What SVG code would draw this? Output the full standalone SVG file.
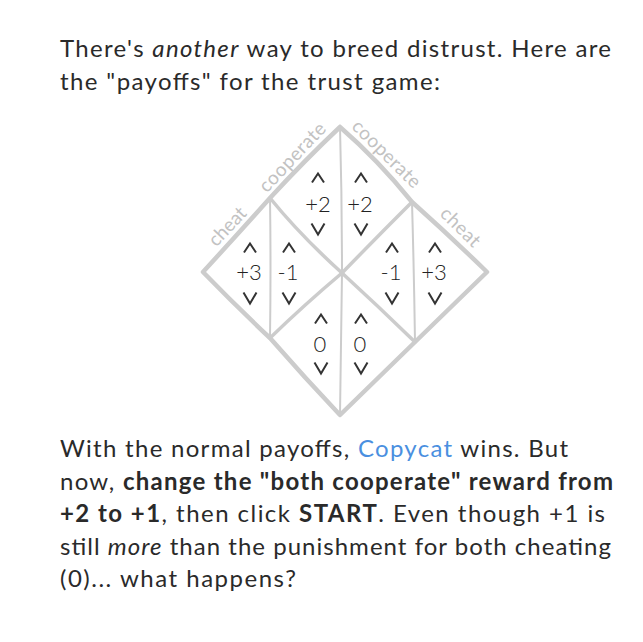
<svg xmlns="http://www.w3.org/2000/svg" width="643" height="642" viewBox="0 0 643 642">
<style>
.body{font-family:Lato,"Liberation Sans",sans-serif;font-size:24px;fill:#2a2a2a}
.b{font-weight:bold}
.i{font-style:italic}
.blue{fill:#4a8fe0}
.num{font-family:Lato,"Liberation Sans",sans-serif;font-size:22px;font-weight:300;fill:#222;text-anchor:middle}
.lbl{font-family:Lato,"Liberation Sans",sans-serif;font-size:19px;fill:#c2c2c2;text-anchor:middle}
.outer{fill:none;stroke:#cccccc;stroke-width:4.5;stroke-linejoin:round;stroke-linecap:round}
.diag{fill:none;stroke:#cccccc;stroke-width:3.5;stroke-linecap:round}
.vert{fill:none;stroke:#cccccc;stroke-width:2;stroke-linecap:round}
</style>
<defs>
<path id="up" d="M-6,4.5 L0,-4.5 L6,4.5" fill="none" stroke="#333" stroke-width="2"/>
<path id="dn" d="M-6.5,-5.5 L0,5.5 L6.5,-5.5" fill="none" stroke="#333" stroke-width="2"/>
</defs>
<rect width="643" height="642" fill="#fff"/>

<g id="intro">
<text class="body" x="60" y="57" textLength="551" lengthAdjust="spacing">There's <tspan class="i">another</tspan> way to breed distrust. Here are</text>
<text class="body" x="60" y="90" textLength="380" lengthAdjust="spacing">the "payoffs" for the trust game:</text>
</g>

<g id="connectors">
<path class="outer" d="M340,127 Q378,160 412,202 Q450,236 487,272 Q452,306 415,342 Q378,378 340,415 Q305,378 270,338 Q236,306 203,272 Q236,236 270,198 Q305,160 340,127"/>
<path class="diag" d="M270,198 Q300,235 342,273 Q378,306 415,342"/>
<path class="diag" d="M412,202 Q376,238 342,273 Q304,305 270,338"/>
<path class="vert" d="M340,127 Q342,200 342,273 Q341,345 340,415"/>
<path class="vert" d="M270,198 Q271,268 270,338"/>
<path class="vert" d="M412,202 Q414,272 415,342"/>
</g>

<g id="labels">
<text class="lbl" transform="translate(232,230.9) rotate(-46.6)" textLength="46" lengthAdjust="spacing">cheat</text>
<text class="lbl" transform="translate(297,161.6) rotate(-46.6)" textLength="88" lengthAdjust="spacing">cooperate</text>
<text class="lbl" transform="translate(382,158.5) rotate(44.6)" textLength="88" lengthAdjust="spacing">cooperate</text>
<text class="lbl" transform="translate(456,231.5) rotate(44.6)" textLength="48" lengthAdjust="spacing">cheat</text>
</g>

<g id="cell-cc-left"><use href="#up" x="318" y="178"/><text class="num" x="318" y="212">+2</text><use href="#dn" x="318" y="229"/></g>
<g id="cell-cc-right"><use href="#up" x="361" y="178"/><text class="num" x="360" y="212">+2</text><use href="#dn" x="361" y="229"/></g>
<g id="cell-dc-left"><use href="#up" x="250" y="248"/><text class="num" x="249" y="280">+3</text><use href="#dn" x="250" y="298"/></g>
<g id="cell-dc-right"><use href="#up" x="289" y="248"/><text class="num" x="288" y="280">-1</text><use href="#dn" x="289" y="298"/></g>
<g id="cell-cd-left"><use href="#up" x="392" y="248"/><text class="num" x="391" y="280">-1</text><use href="#dn" x="392" y="298"/></g>
<g id="cell-cd-right"><use href="#up" x="435" y="248"/><text class="num" x="434" y="280">+3</text><use href="#dn" x="435" y="298"/></g>
<g id="cell-dd-left"><use href="#up" x="321" y="319"/><text class="num" x="320" y="352">0</text><use href="#dn" x="321" y="368"/></g>
<g id="cell-dd-right"><use href="#up" x="361" y="319"/><text class="num" x="360" y="352">0</text><use href="#dn" x="361" y="368"/></g>

<g id="outro">
<text class="body" x="60" y="457" textLength="508" lengthAdjust="spacing">With the normal payoffs, <tspan class="blue">Copycat</tspan> wins. But</text>
<text class="body" x="60" y="490" textLength="553" lengthAdjust="spacing">now, <tspan class="b">change the "both cooperate" reward from</tspan></text>
<text class="body" x="60" y="522" textLength="545" lengthAdjust="spacing"><tspan class="b">+2 to +1</tspan>, then click <tspan class="b">START</tspan>. Even though +1 is</text>
<text class="body" x="60" y="555" textLength="551" lengthAdjust="spacing">still <tspan class="i">more</tspan> than the punishment for both cheating</text>
<text class="body" x="60" y="587" textLength="236" lengthAdjust="spacing">(0)... what happens?</text>
</g>
</svg>
